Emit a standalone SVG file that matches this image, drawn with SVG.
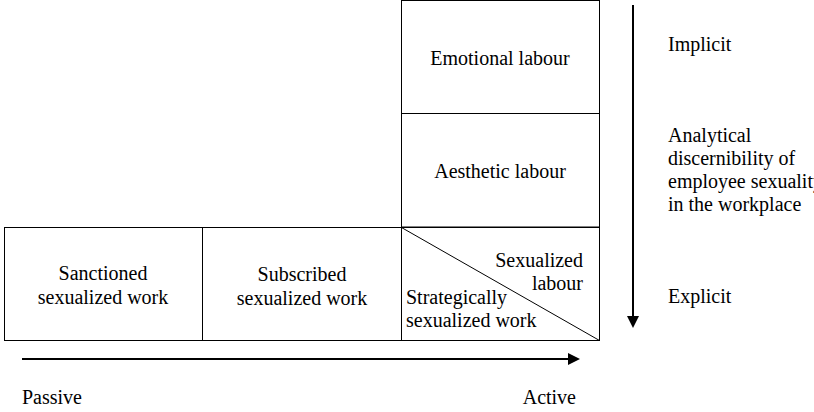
<svg xmlns="http://www.w3.org/2000/svg" width="814" height="412" viewBox="0 0 814 412">
<style>
.box{fill:#fff;stroke:#000;stroke-width:1}
.c{text-anchor:middle}
.e{text-anchor:end}
.ln{stroke:#000;stroke-width:2;fill:none}
</style>
<defs>
<marker id="ah" markerWidth="12" markerHeight="12" refX="10" refY="6" orient="auto" markerUnits="userSpaceOnUse">
<path d="M0,0 L12,6 L0,12 Z" fill="#000"/>
</marker>
</defs>
<rect width="814" height="412" fill="#fff"/>
<g font-family="Liberation Serif, Times New Roman, serif" font-size="20" fill="#000">
<g id="emotional">
<rect class="box" x="401.5" y="0.5" width="198" height="113"/>
<text class="c" x="500" y="65">Emotional labour</text>
</g>
<g id="aesthetic">
<rect class="box" x="401.5" y="113.5" width="198" height="113.5"/>
<text class="c" x="500" y="178">Aesthetic labour</text>
</g>
<g id="sanctioned">
<rect class="box" x="4.5" y="227.5" width="198" height="113"/>
<text class="c" x="103" y="280">Sanctioned</text>
<text class="c" x="103" y="304">sexualized work</text>
</g>
<g id="subscribed">
<rect class="box" x="202.5" y="227.5" width="199" height="113"/>
<text class="c" x="302" y="281">Subscribed</text>
<text class="c" x="302" y="305">sexualized work</text>
</g>
<g id="strategic">
<rect class="box" x="401.5" y="227.5" width="198" height="113"/>
<line x1="401.5" y1="227.5" x2="599.5" y2="340.5" stroke="#000" stroke-width="1"/>
<text class="e" x="583" y="267">Sexualized</text>
<text class="e" x="583" y="290">labour</text>
<text x="406" y="304">Strategically</text>
<text x="406" y="327">sexualized work</text>
</g>
<g id="connectors">
<line class="ln" x1="633" y1="5" x2="633" y2="326" marker-end="url(#ah)"/>
<line class="ln" x1="22" y1="359" x2="578" y2="359" marker-end="url(#ah)"/>
</g>
<g id="labels">
<text x="668" y="51">Implicit</text>
<text x="668" y="142">Analytical</text>
<text x="668" y="165">discernibility of</text>
<text x="668" y="188">employee sexuality</text>
<text x="668" y="211">in the workplace</text>
<text x="668" y="303">Explicit</text>
<text x="22" y="404">Passive</text>
<text class="e" x="576" y="404">Active</text>
</g>
</g>
</svg>
